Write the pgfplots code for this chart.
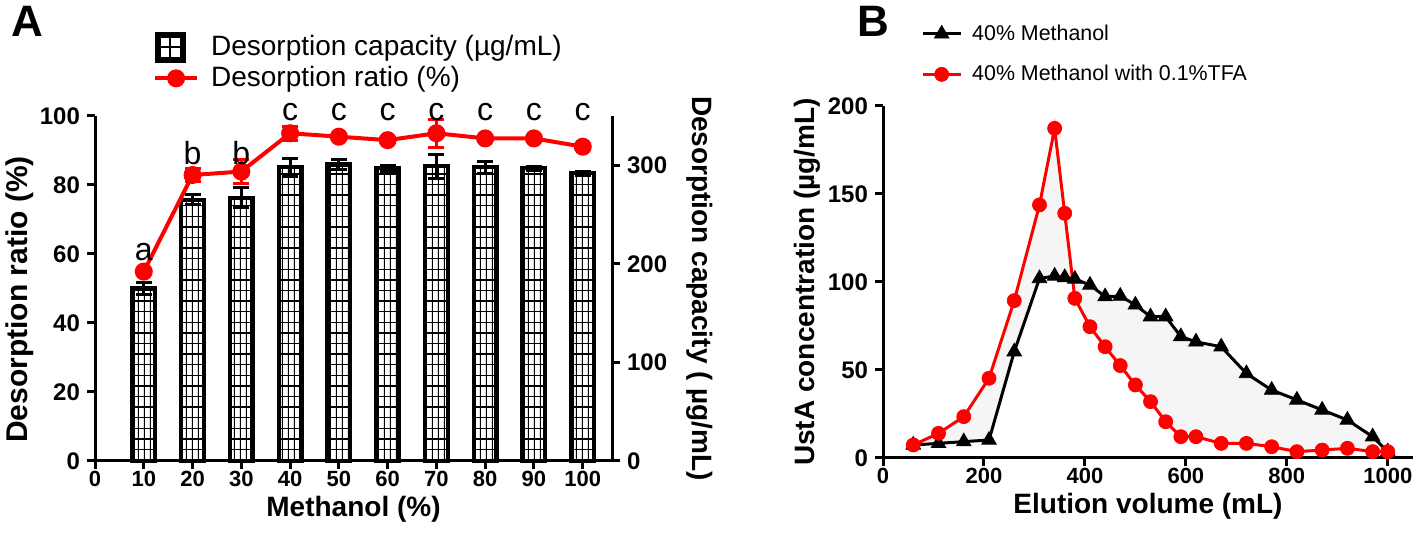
\documentclass[border=0pt]{standalone}
\usepackage{fontspec}
\setmainfont{Liberation Sans}
\usepackage{pgfplots}
\usepackage{pgfplotstable}
\pgfplotsset{compat=1.18}
\usetikzlibrary{patterns}
\usepgfplotslibrary{fillbetween}

% coarse grid used inside the bars
\pgfdeclarepatternformonly{bargrid}{\pgfqpoint{-0.1pt}{-0.1pt}}{\pgfqpoint{3.1pt}{5.4pt}}{\pgfqpoint{3pt}{5.3pt}}{
  \pgfsetlinewidth{0.7pt}
  \pgfpathmoveto{\pgfqpoint{0pt}{0pt}}\pgfpathlineto{\pgfqpoint{3.1pt}{0pt}}
  \pgfpathmoveto{\pgfqpoint{0pt}{0pt}}\pgfpathlineto{\pgfqpoint{0pt}{5.4pt}}
  \pgfusepath{stroke}}

% panel A: desorption capacity (bars, right axis)
\pgfplotstableread{
m   c    e
10  175  6
20  265  5
30  267  10
40  298  9
50  301  5
60  297  3
70  299  12
80  298  6
90  297  2
100 292  2
}\capdata

% panel A: desorption ratio (line, left axis)
\pgfplotstableread{
m   r     e
10  54.9  0
20  82.9  2
30  83.9  3.4
40  95.0  2
50  94.0  0
60  93.0  0
70  95.0  4
80  93.5  0
90  93.5  0
100 91.1  0
}\ratiodata

% significance letters
\pgfplotstableread{
m   y      t
10  60.6   a
20  89.3   b
30  89.3   b
40  101.2  c
50  101.2  c
60  101.2  c
70  101.2  c
80  101.2  c
90  101.2  c
100 101.2  c
}\letters

% panel B: elution curves
\pgfplotstableread{
v    u
60   7.4
110  8.3
160  9.3
210  10.2
260  60.4
310  102
340  103.4
360  102.6
380  101.7
410  98.3
440  91.7
470  92.0
500  87
530  80.3
560  80.3
590  69
620  66
670  63.2
720  48
770  38.6
820  33
870  27.3
920  21.6
970  12.1
1000 3.6
}\meoh

\pgfplotstableread{
v    u
60   7.4
110  14
160  23.5
210  45.3
260  89.4
310  143.8
340  187.3
360  139
380  90.7
410  74.6
440  63.2
470  52.5
500  41.5
530  32
560  20.6
590  12.1
620  12.1
670  8.3
720  8.3
770  6.4
820  3.6
870  4.5
920  5.5
970  3.6
1000 3.6
}\tfa

\pgfplotsset{
  panel/.style={
    scale only axis, enlargelimits=false, clip=false,
    axis line style={line width=1.5pt},
    tick style={line width=1.5pt, black},
    tick align=outside, major tick length=4pt,
    /pgf/number format/assume math mode=true,
    /pgf/number format/1000 sep={},
    yticklabel style={font=\fontsize{12}{14}\selectfont\bfseries},
    xticklabel style={font=\fontsize{11}{13}\selectfont\bfseries, inner sep=1pt},
    xlabel style={font=\fontsize{14}{16}\selectfont\bfseries},
    ylabel style={font=\fontsize{14}{16}\selectfont\bfseries},
    legend style={draw=none, fill=none, anchor=north west},
    legend cell align=left,
  },
  linelegend/.style={legend image code/.code={
    \draw[mark repeat=2, mark phase=2, ##1]
      plot coordinates {(0pt,0pt) (#1/2,0pt) (#1,0pt)};}},
}

\begin{document}
\begin{tikzpicture}

% ---------- panel A, bars on the right axis ----------
\begin{axis}[panel,
  at={(47.5pt,42pt)}, anchor=south west,
  width=258.5pt, height=172.5pt,
  xmin=0, xmax=106, ymin=0, ymax=350,
  axis x line=none, axis y line*=right,
  ytick={0,100,200,300},
  ylabel={Desorption capacity ( µg/mL)},
  ylabel style={rotate=180, at={(ticklabel cs:0.5,3pt)}},
  ybar, bar width=11.3pt,
]
\addplot[draw=black, line width=2.2pt, pattern=bargrid,
  error bars/.cd, y dir=both, y explicit,
  error bar style={line width=1.5pt, black},
  error mark options={rotate=90, mark size=4pt, line width=1.5pt, black}]
  table[x=m, y=c, y error=e] {\capdata};
\end{axis}

% ---------- panel A, ratio on the left axis ----------
\begin{axis}[panel,
  at={(47.5pt,42pt)}, anchor=south west,
  width=258.5pt, height=172.5pt,
  xmin=0, xmax=106, ymin=0, ymax=100,
  axis x line*=bottom, axis y line*=left,
  xtick={0,10,...,100}, ytick={0,20,...,100},
  xlabel={Methanol (\%)},
  ylabel={Desorption ratio (\%)},
  ylabel style={font=\fontsize{15}{17}\selectfont\bfseries,
    at={(ticklabel cs:0.468,-4pt)}},
  legend style={at={(0.1,1.258)}, row sep=0pt, column sep=4pt,
    font=\fontsize{14}{16.5}\selectfont},
]
\addlegendimage{legend image code/.code={
  \fill[black] (0pt,-7.5pt) rectangle (15pt,7.5pt);
  \fill[white] (3pt,-4.5pt) rectangle (6.7pt,-0.8pt);
  \fill[white] (8.3pt,-4.5pt) rectangle (12pt,-0.8pt);
  \fill[white] (3pt,0.8pt) rectangle (6.7pt,4.5pt);
  \fill[white] (8.3pt,0.8pt) rectangle (12pt,4.5pt);}}
\addlegendentry{Desorption capacity (µg/mL)}
\addplot[red, line width=2pt, mark=*, mark size=3.5pt, linelegend=21pt,
  error bars/.cd, y dir=both, y explicit,
  error bar style={line width=1.5pt, red},
  error mark options={rotate=90, mark size=4pt, line width=1.5pt, red}]
  table[x=m, y=r, y error=e] {\ratiodata};
\addlegendentry{Desorption ratio (\%)}
\addplot[draw=none, mark=none, nodes near coords, point meta=explicit symbolic,
  nodes near coords style={anchor=center, font=\fontsize{16}{18}\selectfont}]
  table[x=m, y=y, meta=t] {\letters};
\end{axis}

% ---------- panel B ----------
\begin{axis}[panel,
  at={(441.5pt,43.5pt)}, anchor=south west,
  width=265pt, height=176pt,
  xmin=0, xmax=1050, ymin=0, ymax=200,
  axis x line*=bottom, axis y line*=left,
  xtick={0,200,...,1000}, ytick={0,50,...,200},
  xlabel={Elution volume (mL)},
  ylabel={UstA concentration (µg/mL)},
  ylabel style={at={(ticklabel cs:0.5,-3pt)}},
  legend style={at={(0.06,1.255)}, row sep=7pt, column sep=3pt,
    font=\fontsize{10.7}{12.5}\selectfont},
]
\addplot[draw=none, mark=none, forget plot, name path=A] table[x=v, y=u] {\meoh};
\addplot[draw=none, mark=none, forget plot, name path=B] table[x=v, y=u] {\tfa};
\addplot[gray!8, forget plot] fill between[of=A and B];
\addplot[black, line width=1.5pt, mark=triangle*, mark size=4.2pt,
  mark options={line width=0.4pt}, linelegend=19pt] table[x=v, y=u] {\meoh};
\addlegendentry{40\% Methanol}
\addplot[red, line width=1.5pt, mark=*, mark size=3.5pt,
  mark options={line width=0.4pt}, linelegend=19pt] table[x=v, y=u] {\tfa};
\addlegendentry{40\% Methanol with 0.1\%TFA}
\end{axis}

\node[font=\fontsize{22}{24}\selectfont\bfseries] at (13.5pt,262pt) {A};
\node[font=\fontsize{22}{24}\selectfont\bfseries] at (436.5pt,262pt) {B};

\pgfresetboundingbox
\useasboundingbox (0,0) rectangle (709pt,272.5pt);
\end{tikzpicture}
\end{document}
